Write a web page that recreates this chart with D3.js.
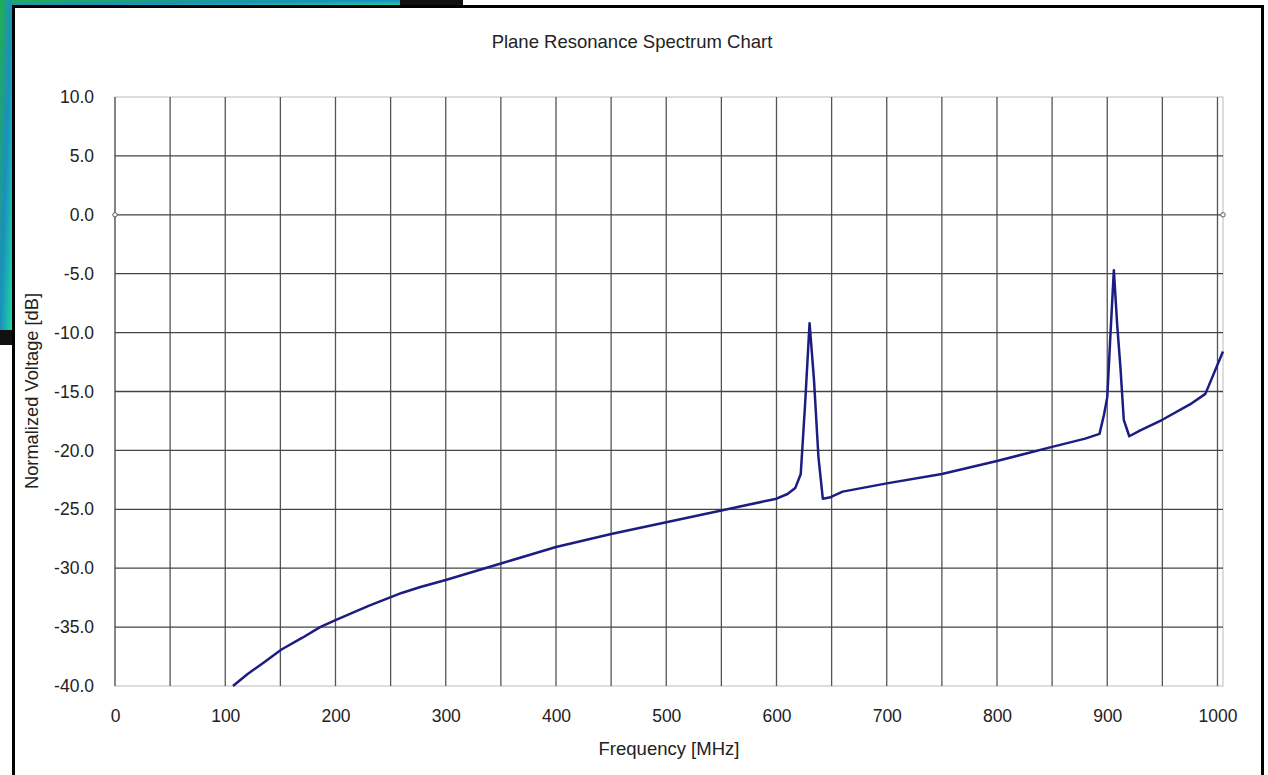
<!DOCTYPE html>
<meta charset="utf-8">
<script src="https://d3js.org/d3.v7.min.js"></script>
<style>
  body { margin: 0; background: #fff; }
  text { font-family: "Liberation Sans", Arial, sans-serif; fill: #222; }
</style>
<div id="chart"></div>
<script>

// frequency [MHz] and normalized voltage [dB]
var freq = [107, 120, 135, 151, 170, 186, 200, 230, 260, 277, 300, 350, 400, 450, 500, 550, 600,
            610, 617, 622, 626, 630, 634, 638, 642, 648, 660, 700, 750, 800, 850, 880, 893,
            897, 900, 903, 906, 909, 912, 915, 920, 930, 950, 975, 989, 1005];
var volts = [-40.0, -39.0, -38.0, -36.9, -35.9, -35.0, -34.4, -33.2, -32.1, -31.6, -31.0, -29.6,
             -28.2, -27.1, -26.1, -25.1, -24.1, -23.7, -23.2, -22.0, -16.0, -9.2, -14.0, -20.5,
             -24.1, -24.0, -23.5, -22.8, -22.0, -20.9, -19.7, -19.0, -18.6, -17.0, -15.5,
             -10.0, -4.7, -9.3, -13.0, -17.4, -18.8, -18.3, -17.4, -16.1, -15.2, -11.6];

// reference markers on the 0 dB line
var refFreq = [0, 1005];
var refVolts = [0, 0];

var xTicks = [0, 100, 200, 300, 400, 500, 600, 700, 800, 900, 1000];
var xGrid = d3.range(0, 1001, 50);
var yTicks = [10, 5, 0, -5, -10, -15, -20, -25, -30, -35, -40];

var W = 1268, H = 775;
var margin = {top: 97, right: 45, bottom: 89, left: 115};
var width = W - margin.left - margin.right,
    height = H - margin.top - margin.bottom;

var svg = d3.select("#chart").append("svg")
    .attr("width", W)
    .attr("height", H);

// background bits outside the chart frame (screenshot leftovers)
var grad = svg.append("defs").append("linearGradient")
    .attr("id", "bg").attr("x1", "0").attr("y1", "0").attr("x2", "1").attr("y2", "1");
grad.append("stop").attr("offset", "0").attr("stop-color", "#22b04a");
grad.append("stop").attr("offset", "0.5").attr("stop-color", "#1a8fc0");
grad.append("stop").attr("offset", "1").attr("stop-color", "#1fd99a");
svg.append("rect").attr("x", 0).attr("y", 0).attr("width", 400).attr("height", 6).attr("fill", "url(#bg)");
svg.append("rect").attr("x", 400).attr("y", 0).attr("width", 63).attr("height", 6).attr("fill", "#111");
svg.append("rect").attr("x", 0).attr("y", 0).attr("width", 12).attr("height", 330).attr("fill", "url(#bg)");
svg.append("rect").attr("x", 0).attr("y", 330).attr("width", 12).attr("height", 15).attr("fill", "#111");

// chart frame
svg.append("rect")
    .attr("x", 13.5).attr("y", 6.5)
    .attr("width", 1249).attr("height", 800)
    .attr("fill", "#fff")
    .attr("stroke", "#000")
    .attr("stroke-width", 3);

var g = svg.append("g")
    .attr("transform", "translate(" + margin.left + "," + margin.top + ")");

var x = d3.scaleLinear().domain([0, 1005]).range([0, width]);
var y = d3.scaleLinear().domain([-40, 10]).range([height, 0]);

// plot area outline
g.append("rect")
    .attr("width", width).attr("height", height)
    .attr("fill", "none")
    .attr("stroke", "#bbb");

// grid
g.append("g")
  .selectAll("line")
  .data(xGrid)
  .join("line")
    .attr("x1", function(d) { return x(d); })
    .attr("x2", function(d) { return x(d); })
    .attr("y1", 0).attr("y2", height)
    .attr("stroke", "#555")
    .attr("stroke-width", 1.3);

g.append("g")
  .selectAll("line")
  .data(yTicks.filter(function(d) { return d > -40 && d < 10; }))
  .join("line")
    .attr("x1", 0).attr("x2", width)
    .attr("y1", function(d) { return y(d); })
    .attr("y2", function(d) { return y(d); })
    .attr("stroke", "#444")
    .attr("stroke-width", 1.3);

// axes
var xAxis = g.append("g")
    .attr("transform", "translate(0," + height + ")")
    .call(d3.axisBottom(x).tickValues(xTicks)
      .tickFormat(function(d) { return String(d); })
      .tickSize(0).tickPadding(24));
xAxis.select(".domain").remove();

var yAxis = g.append("g")
    .call(d3.axisLeft(y).tickValues(yTicks)
      .tickFormat(function(d) { return d.toFixed(1); })
      .tickSize(0).tickPadding(21));
yAxis.select(".domain").remove();

g.selectAll(".tick text")
    .style("font-family", "'Liberation Sans', Arial, sans-serif")
    .style("font-size", "17.5px")
    .attr("fill", "#222");

// spectrum line
var pts = freq.map(function(f, i) { return [f, volts[i]]; });
g.append("path")
    .datum(pts)
    .attr("fill", "none")
    .attr("stroke", "#1c1c82")
    .attr("stroke-width", 2.5)
    .attr("stroke-linejoin", "round")
    .attr("d", d3.line()
      .x(function(d) { return x(d[0]); })
      .y(function(d) { return y(d[1]); }));

// reference markers
g.append("g")
  .selectAll("circle")
  .data(refFreq)
  .join("circle")
    .attr("cx", function(d) { return x(d); })
    .attr("cy", function(d, i) { return y(refVolts[i]); })
    .attr("r", 2.2)
    .attr("fill", "#fff")
    .attr("stroke", "#555");

// titles
svg.append("text")
    .attr("x", 632).attr("y", 48)
    .attr("text-anchor", "middle")
    .style("font-size", "18.5px")
    .text("Plane Resonance Spectrum Chart");

svg.append("text")
    .attr("x", 669).attr("y", 755)
    .attr("text-anchor", "middle")
    .style("font-size", "18.5px")
    .text("Frequency [MHz]");

svg.append("text")
    .attr("transform", "translate(38,391) rotate(-90)")
    .attr("text-anchor", "middle")
    .style("font-size", "18.3px")
    .text("Normalized Voltage [dB]");

</script>
